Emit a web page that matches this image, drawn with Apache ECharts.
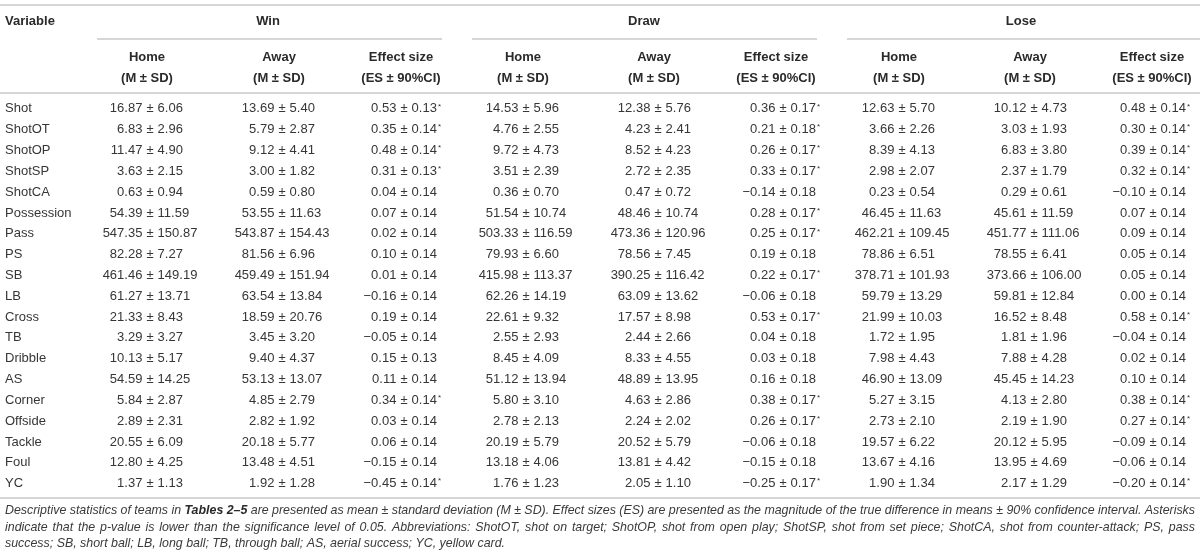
<!DOCTYPE html>
<html style="height: 100%">
  <head>
    <meta charset="utf-8" />
  </head>
  <body style="height: 100%; margin: 0">
    <div id="container" style="width: 1200px; height: 556px"></div>

    <script
      type="text/javascript"
      src="https://cdn.jsdelivr.net/npm/echarts@6/dist/echarts.min.js"
    ></script>

    <script type="text/javascript">
      // row labels
      var variables = [
        "Shot", "ShotOT", "ShotOP", "ShotSP", "ShotCA", "Possession", "Pass",
        "PS", "SB", "LB", "Cross", "TB", "Dribble", "AS", "Corner", "Offside",
        "Tackle", "Foul", "YC",
      ];

      // [mean, sd]
      var winHome = [
        [16.87, 6.06], [6.83, 2.96], [11.47, 4.9], [3.63, 2.15], [0.63, 0.94],
        [54.39, 11.59], [547.35, 150.87], [82.28, 7.27], [461.46, 149.19],
        [61.27, 13.71], [21.33, 8.43], [3.29, 3.27], [10.13, 5.17],
        [54.59, 14.25], [5.84, 2.87], [2.89, 2.31], [20.55, 6.09],
        [12.8, 4.25], [1.37, 1.13],
      ];
      var winAway = [
        [13.69, 5.4], [5.79, 2.87], [9.12, 4.41], [3.0, 1.82], [0.59, 0.8],
        [53.55, 11.63], [543.87, 154.43], [81.56, 6.96], [459.49, 151.94],
        [63.54, 13.84], [18.59, 20.76], [3.45, 3.2], [9.4, 4.37],
        [53.13, 13.07], [4.85, 2.79], [2.82, 1.92], [20.18, 5.77],
        [13.48, 4.51], [1.92, 1.28],
      ];
      // [es, ci, significant]
      var winES = [
        [0.53, 0.13, 1], [0.35, 0.14, 1], [0.48, 0.14, 1], [0.31, 0.13, 1],
        [0.04, 0.14, 0], [0.07, 0.14, 0], [0.02, 0.14, 0], [0.1, 0.14, 0],
        [0.01, 0.14, 0], [-0.16, 0.14, 0], [0.19, 0.14, 0], [-0.05, 0.14, 0],
        [0.15, 0.13, 0], [0.11, 0.14, 0], [0.34, 0.14, 1], [0.03, 0.14, 0],
        [0.06, 0.14, 0], [-0.15, 0.14, 0], [-0.45, 0.14, 1],
      ];

      var drawHome = [
        [14.53, 5.96], [4.76, 2.55], [9.72, 4.73], [3.51, 2.39], [0.36, 0.7],
        [51.54, 10.74], [503.33, 116.59], [79.93, 6.6], [415.98, 113.37],
        [62.26, 14.19], [22.61, 9.32], [2.55, 2.93], [8.45, 4.09],
        [51.12, 13.94], [5.8, 3.1], [2.78, 2.13], [20.19, 5.79],
        [13.18, 4.06], [1.76, 1.23],
      ];
      var drawAway = [
        [12.38, 5.76], [4.23, 2.41], [8.52, 4.23], [2.72, 2.35], [0.47, 0.72],
        [48.46, 10.74], [473.36, 120.96], [78.56, 7.45], [390.25, 116.42],
        [63.09, 13.62], [17.57, 8.98], [2.44, 2.66], [8.33, 4.55],
        [48.89, 13.95], [4.63, 2.86], [2.24, 2.02], [20.52, 5.79],
        [13.81, 4.42], [2.05, 1.1],
      ];
      var drawES = [
        [0.36, 0.17, 1], [0.21, 0.18, 1], [0.26, 0.17, 1], [0.33, 0.17, 1],
        [-0.14, 0.18, 0], [0.28, 0.17, 1], [0.25, 0.17, 1], [0.19, 0.18, 0],
        [0.22, 0.17, 1], [-0.06, 0.18, 0], [0.53, 0.17, 1], [0.04, 0.18, 0],
        [0.03, 0.18, 0], [0.16, 0.18, 0], [0.38, 0.17, 1], [0.26, 0.17, 1],
        [-0.06, 0.18, 0], [-0.15, 0.18, 0], [-0.25, 0.17, 1],
      ];

      var loseHome = [
        [12.63, 5.7], [3.66, 2.26], [8.39, 4.13], [2.98, 2.07], [0.23, 0.54],
        [46.45, 11.63], [462.21, 109.45], [78.86, 6.51], [378.71, 101.93],
        [59.79, 13.29], [21.99, 10.03], [1.72, 1.95], [7.98, 4.43],
        [46.9, 13.09], [5.27, 3.15], [2.73, 2.1], [19.57, 6.22],
        [13.67, 4.16], [1.9, 1.34],
      ];
      var loseAway = [
        [10.12, 4.73], [3.03, 1.93], [6.83, 3.8], [2.37, 1.79], [0.29, 0.61],
        [45.61, 11.59], [451.77, 111.06], [78.55, 6.41], [373.66, 106.0],
        [59.81, 12.84], [16.52, 8.48], [1.81, 1.96], [7.88, 4.28],
        [45.45, 14.23], [4.13, 2.8], [2.19, 1.9], [20.12, 5.95],
        [13.95, 4.69], [2.17, 1.29],
      ];
      var loseES = [
        [0.48, 0.14, 1], [0.3, 0.14, 1], [0.39, 0.14, 1], [0.32, 0.14, 1],
        [-0.1, 0.14, 0], [0.07, 0.14, 0], [0.09, 0.14, 0], [0.05, 0.14, 0],
        [0.05, 0.14, 0], [0.0, 0.14, 0], [0.58, 0.14, 1], [-0.04, 0.14, 0],
        [0.02, 0.14, 0], [0.1, 0.14, 0], [0.38, 0.14, 1], [0.27, 0.14, 1],
        [-0.09, 0.14, 0], [-0.06, 0.14, 0], [-0.2, 0.14, 1],
      ];

      var groups = ["Win", "Draw", "Lose"];
      var subHeads = ["Home", "Away", "Effect size"];
      var subUnits = ["(M \u00b1 SD)", "(M \u00b1 SD)", "(ES \u00b1 90%CI)"];

      var footLines = [
        "Descriptive statistics of teams in {b|Tables 2\u20135} are presented as mean \u00b1 standard deviation (M \u00b1 SD). Effect sizes (ES) are presented as the magnitude of the true difference in means \u00b1 90% confidence interval. Asterisks",
        "indicate that the p-value is lower than the significance level of 0.05. Abbreviations: ShotOT, shot on target; ShotOP, shot from open play; ShotSP, shot from set piece; ShotCA, shot from counter-attack; PS, pass",
        "success; SB, short ball; LB, long ball; TB, through ball; AS, aerial success; YC, yellow card.",
      ];

      var columns = [winHome, winAway, winES, drawHome, drawAway, drawES, loseHome, loseAway, loseES];

      // layout: x of the ± sign in each column, header centres
      var colX = [150, 282, 404, 526, 658, 783, 902, 1034, 1153];
      var headX = [147, 279, 401, 523, 654, 776, 899, 1030, 1152];
      var groupX = [268, 644, 1021];
      var groupLine = [[97, 442], [472, 817], [847, 1200]];

      var FONT = '"Liberation Sans", Arial, Helvetica, sans-serif';
      var TXT = "#363636";
      var RULE = "#c9c9c9";
      var FOOT_SIZE = 12.4;

      function fmt(v) {
        var s = Math.abs(v).toFixed(2);
        return v < 0 ? "\u2212" + s : s;
      }

      function renderCell(params, api) {
        var p = api.coord([api.value(0), api.value(1)]);
        var sig = api.value(4);
        var base = { fill: TXT, fontSize: 13, fontFamily: FONT, verticalAlign: "middle" };
        return {
          type: "group",
          children: [
            { type: "text", style: Object.assign({ x: p[0] - 7.6, y: p[1], text: fmt(api.value(2)), align: "right" }, base) },
            { type: "text", style: Object.assign({ x: p[0], y: p[1], text: "\u00b1", align: "center" }, base) },
            {
              type: "text",
              style: Object.assign(
                {
                  x: p[0] + 7.6,
                  y: p[1],
                  text: fmt(api.value(3)) + (sig ? "{s|*}" : ""),
                  align: "left",
                  rich: { s: { fontSize: 8, fontFamily: FONT, fill: TXT, verticalAlign: "top", padding: [0, 0, 4, 1] } },
                },
                base
              ),
            },
          ],
        };
      }

      var series = columns.map(function (col, c) {
        return {
          type: "custom",
          renderItem: renderCell,
          data: col.map(function (d, i) {
            return [colX[c], i, d[0], d[1], d[2] || 0];
          }),
          encode: { x: 0, y: 1 },
          silent: true,
        };
      });

      // header + rules + footnote
      var graphic = [];
      function hline(x1, x2, y) {
        graphic.push({ type: "line", shape: { x1: x1, y1: y, x2: x2, y2: y }, style: { stroke: RULE, lineWidth: 1.5 }, silent: true });
      }
      function label(text, x, y, align, bold) {
        graphic.push({
          type: "text", x: x, y: y, silent: true,
          style: { text: text, align: align, verticalAlign: "middle", fill: "#2a2a2a", fontSize: 13, fontFamily: FONT, fontWeight: bold ? "bold" : "normal" },
        });
      }
      hline(0, 1200, 5);
      hline(0, 1200, 93);
      hline(0, 1200, 498);
      label("Variable", 5, 21, "left", true);
      groups.forEach(function (g, k) {
        label(g, groupX[k], 21, "center", true);
        hline(groupLine[k][0], groupLine[k][1], 39);
        for (var j = 0; j < 3; j++) {
          label(subHeads[j], headX[k * 3 + j], 57, "center", true);
          label(subUnits[j], headX[k * 3 + j], 78, "center", true);
        }
      });

      // footnote, justified like the printed caption (last line left aligned)
      var ctx = document.createElement("canvas").getContext("2d");
      function wordWidth(w, bold) {
        ctx.font = "italic " + (bold ? "bold " : "") + FOOT_SIZE + "px " + FONT;
        return ctx.measureText(w).width;
      }
      function footLine(text, y, justify) {
        var bold = false;
        var toks = text.split(" ").map(function (w) {
          if (w.indexOf("{b|") === 0) {
            bold = true;
            w = w.slice(3);
          }
          var b = bold;
          if (bold && w.slice(-1) === "}") {
            w = w.slice(0, -1);
            bold = false;
          }
          return { t: w, b: b, w: wordWidth(w, b) };
        });
        var total = toks.reduce(function (s, t) { return s + t.w; }, 0);
        var gap = justify ? (1190 - total) / (toks.length - 1) : wordWidth(" ", false);
        var x = 5;
        toks.forEach(function (t) {
          graphic.push({
            type: "text", x: x, y: y, silent: true,
            style: {
              text: t.t, align: "left", verticalAlign: "middle",
              fill: t.b ? "#2a2a2a" : "#3a3a3a", fontSize: FOOT_SIZE, fontStyle: "italic",
              fontWeight: t.b ? "bold" : "normal", fontFamily: FONT,
            },
          });
          x += t.w + gap;
        });
      }
      footLines.forEach(function (t, k) {
        footLine(t, 511 + k * 16.3, k < footLines.length - 1);
      });

      var dom = document.getElementById("container");
      var myChart = echarts.init(dom);
      var option = {
        backgroundColor: "#ffffff",
        animation: false,
        grid: { left: 0, right: 0, top: 98.5, bottom: 62 },
        xAxis: { type: "value", min: 0, max: 1200, show: false },
        yAxis: {
          type: "category",
          data: variables,
          inverse: true,
          axisLine: { show: false },
          axisTick: { show: false },
          splitLine: { show: false },
          axisLabel: { inside: true, margin: 5, color: TXT, fontSize: 13, fontFamily: FONT },
        },
        graphic: graphic,
        series: series,
      };
      myChart.setOption(option);
    </script>
  </body>
</html>
